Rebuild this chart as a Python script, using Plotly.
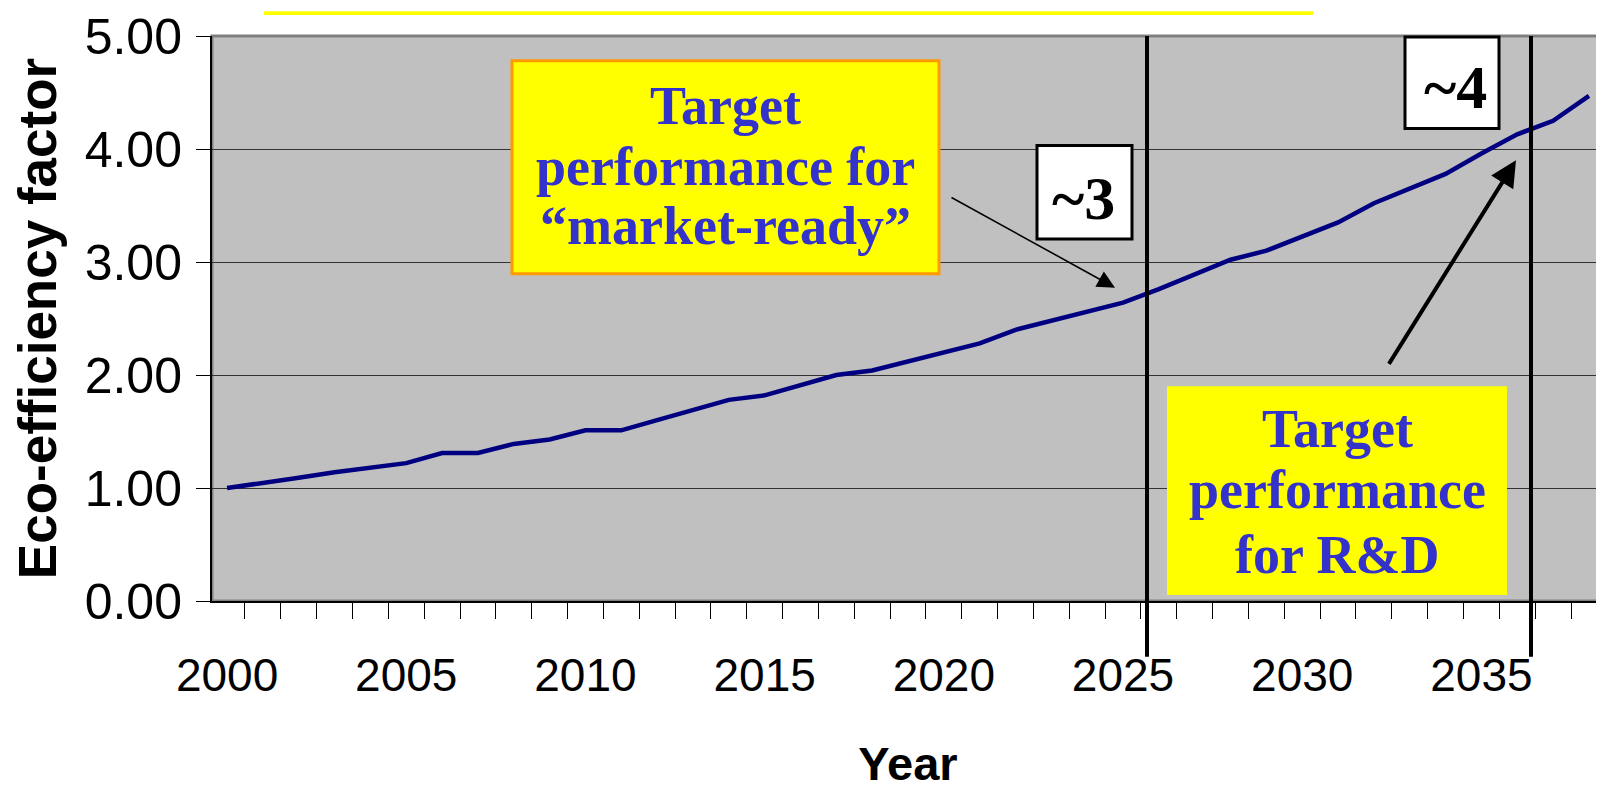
import plotly.graph_objects as go

# ---- data ----
years = list(range(2000, 2039))
eco_factor = [1.00, 1.04, 1.09, 1.14, 1.18, 1.22, 1.31, 1.31, 1.39, 1.43,
              1.51, 1.51, 1.60, 1.69, 1.78, 1.82, 1.91, 2.00, 2.04, 2.12,
              2.20, 2.28, 2.40, 2.48, 2.56, 2.64, 2.76, 2.89, 3.02, 3.10,
              3.23, 3.35, 3.52, 3.65, 3.78, 3.96, 4.13, 4.25, 4.47]
x_tick_years = [2000, 2005, 2010, 2015, 2020, 2025, 2030, 2035]
y_ticks = [0, 1, 2, 3, 4, 5]

box1_lines = ["Target", "performance for", "\u201cmarket-ready\u201d"]
box2_lines = ["Target", "performance", "for R&D"]
label3 = "~3"
label4 = "~4"

# ---- layout geometry (pixels; page body has an 8px margin) ----
OFF = 8
W, H = 1604 - OFF, 790 - OFF
L, R, T, B = 212 - OFF, 1604 - OFF, 33 - OFF, 601 - OFF


def px(x):
    return (x - OFF - L) / (R - L)


def py(y):
    return (B - (y - OFF)) / (B - T)


fig = go.Figure()
fig.add_trace(go.Scatter(x=years, y=eco_factor, mode="lines",
                         line=dict(color="#000080", width=4.5),
                         showlegend=False, hoverinfo="x+y"))

shapes = []
# top yellow strip (at the very top edge of the figure)
shapes.append(dict(type="rect", xref="paper", yref="paper",
                   x0=px(264), x1=px(1313), y0=py(OFF + 4), y1=py(OFF),
                   fillcolor="#FFFF00", line=dict(width=0), layer="above"))
# plot border
shapes.append(dict(type="rect", xref="paper", yref="paper",
                   x0=0, x1=1, y0=0, y1=1,
                   line=dict(color="#808080", width=3), layer="below"))
# market-ready box
shapes.append(dict(type="rect", xref="paper", yref="paper",
                   x0=px(512), x1=px(939), y0=py(272), y1=py(58),
                   fillcolor="#FFFF00", line=dict(color="#FF9900", width=3),
                   layer="above"))
# R&D box
shapes.append(dict(type="rect", xref="paper", yref="paper",
                   x0=px(1167), x1=px(1507), y0=py(595), y1=py(385),
                   fillcolor="#FFFF00", line=dict(width=0), layer="above"))
# ~3 box
shapes.append(dict(type="rect", xref="paper", yref="paper",
                   x0=px(1037), x1=px(1132), y0=py(237), y1=py(143),
                   fillcolor="white", line=dict(color="black", width=3),
                   layer="above"))
# ~4 box
shapes.append(dict(type="rect", xref="paper", yref="paper",
                   x0=px(1405), x1=px(1499), y0=py(126), y1=py(34),
                   fillcolor="white", line=dict(color="black", width=3),
                   layer="above"))
# vertical markers
for vx in (1147, 1531):
    shapes.append(dict(type="line", xref="paper", yref="paper",
                       x0=px(vx), x1=px(vx), y0=py(657), y1=py(33),
                       line=dict(color="black", width=4), layer="above"))

annotations = []
serif = "Liberation Serif, Times New Roman, serif"
blue = "#3333CC"
fs_box = 54
for txt, base in zip(box1_lines, [122, 183, 242]):
    annotations.append(dict(xref="paper", yref="paper", x=px(725.5),
                            y=py(base - 0.34 * fs_box), text="<b>%s</b>" % txt,
                            showarrow=False, xanchor="center", yanchor="middle",
                            font=dict(family=serif, size=fs_box, color=blue)))
for txt, base in zip(box2_lines, [446, 508, 573]):
    annotations.append(dict(xref="paper", yref="paper", x=px(1337),
                            y=py(base - 0.34 * fs_box), text="<b>%s</b>" % txt,
                            showarrow=False, xanchor="center", yanchor="middle",
                            font=dict(family=serif, size=fs_box, color=blue)))
fs_lab = 62
annotations.append(dict(xref="paper", yref="paper", x=px(1083),
                        y=py(217 - 0.34 * fs_lab), text="<b>%s</b>" % label3,
                        showarrow=False, xanchor="center", yanchor="middle",
                        font=dict(family=serif, size=fs_lab, color="black")))
annotations.append(dict(xref="paper", yref="paper", x=px(1455),
                        y=py(105 - 0.34 * fs_lab), text="<b>%s</b>" % label4,
                        showarrow=False, xanchor="center", yanchor="middle",
                        font=dict(family=serif, size=fs_lab, color="black")))
# arrows
annotations.append(dict(xref="paper", yref="paper", x=px(1115), y=py(286),
                        ax=950 - 1115, ay=195 - 286, text="", showarrow=True,
                        arrowhead=2, arrowsize=2.2, arrowwidth=1.6,
                        arrowcolor="black"))
annotations.append(dict(xref="paper", yref="paper", x=px(1516), y=py(158),
                        ax=1388 - 1516, ay=363 - 158, text="", showarrow=True,
                        arrowhead=2, arrowsize=1.3, arrowwidth=4,
                        arrowcolor="black"))

sans = "Liberation Sans, Arial, sans-serif"
fig.update_layout(
    width=W, height=H, autosize=False,
    margin=dict(l=L, r=W - R, t=T, b=H - B, pad=0),
    paper_bgcolor="white", plot_bgcolor="#C0C0C0",
    shapes=shapes, annotations=annotations,
    xaxis=dict(range=[1999.58, 2038.42], tickmode="array",
               tickvals=x_tick_years, ticktext=[str(v) for v in x_tick_years],
               ticks="", showgrid=False, zeroline=False,
               showline=True, linecolor="black", linewidth=2,
               tickfont=dict(family=sans, size=46, color="black"),
               ticklabelstandoff=33, ticklabeloverflow="allow",
               minor=dict(tick0=1999.5, dtick=1, ticks="outside", ticklen=16,
                          tickcolor="black", tickwidth=1, showgrid=False),
               title=dict(text="<b>Year</b>", standoff=48,
                          font=dict(family=sans, size=47, color="black"))),
    yaxis=dict(range=[0, 5], tickmode="array", tickvals=y_ticks,
               tickformat=".2f", ticks="outside", ticklen=14,
               tickcolor="black", tickwidth=1,
               showgrid=True, gridcolor="#333333", gridwidth=1,
               zeroline=False, showline=True, linecolor="black", linewidth=2,
               tickfont=dict(family=sans, size=50, color="black"),
               ticklabelstandoff=4, ticklabeloverflow="allow",
               title=dict(text="<b>Eco-efficiency factor</b>", standoff=20,
                          font=dict(family=sans, size=53, color="black"))),
)

fig.write_html("out.html")
